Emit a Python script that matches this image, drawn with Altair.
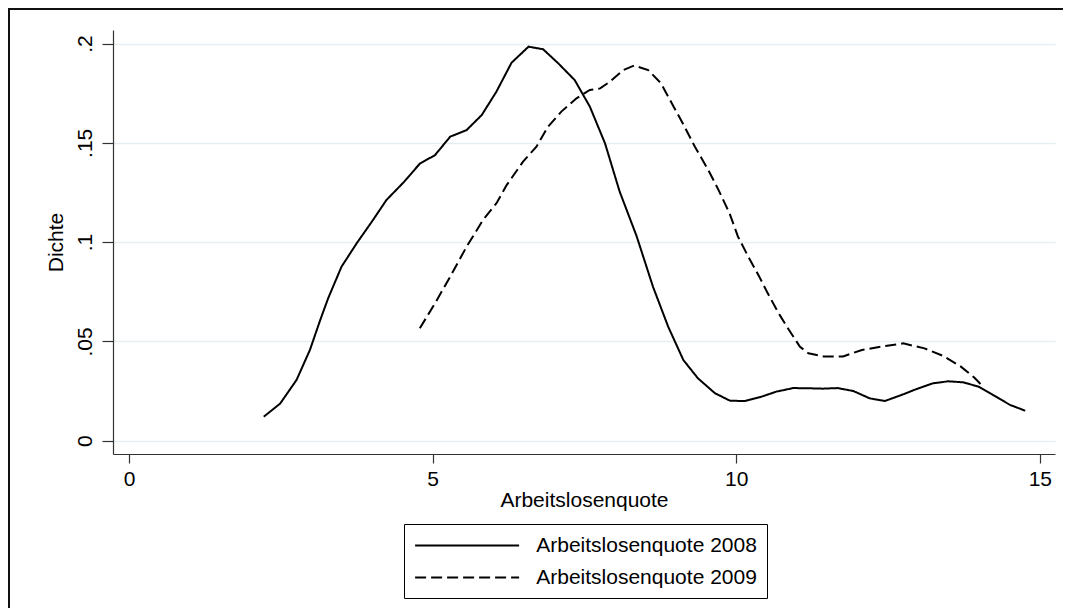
import altair as alt
import pandas as pd

# ---- data (kernel density estimates) ----
series_names = ["Arbeitslosenquote 2008", "Arbeitslosenquote 2009"]

x2008 = [2.22, 2.49, 2.76, 2.98, 3.15, 3.28, 3.50, 3.75, 4.00, 4.24, 4.52, 4.79,
         5.04, 5.29, 5.56, 5.81, 6.05, 6.30, 6.58, 6.82, 7.07, 7.34, 7.59, 7.84,
         8.08, 8.36, 8.63, 8.88, 9.13, 9.37, 9.65, 9.90, 10.14, 10.42, 10.66, 10.94,
         11.19, 11.43, 11.67, 11.93, 12.20, 12.45, 12.72, 12.97, 13.24, 13.49, 13.74,
         13.99, 14.23, 14.51, 14.76]
y2008 = [0.0121, 0.0187, 0.0306, 0.0457, 0.0608, 0.0717, 0.0876, 0.0994, 0.1103,
         0.1212, 0.1300, 0.1395, 0.1438, 0.1531, 0.1564, 0.1640, 0.1757, 0.1903,
         0.1984, 0.1971, 0.1900, 0.1816, 0.1682, 0.1497, 0.1255, 0.1030, 0.0775,
         0.0574, 0.0406, 0.0314, 0.0239, 0.0201, 0.0200, 0.0222, 0.0247, 0.0265,
         0.0264, 0.0262, 0.0265, 0.0250, 0.0213, 0.0200, 0.0230, 0.0260, 0.0289,
         0.0299, 0.0294, 0.0272, 0.0230, 0.0180, 0.0151]

x2009 = [4.79, 5.04, 5.29, 5.56, 5.83, 6.05, 6.22, 6.49, 6.71, 6.90, 7.12, 7.37,
         7.59, 7.76, 7.92, 8.14, 8.32, 8.55, 8.76, 8.97, 9.15, 9.32, 9.54, 9.71,
         9.89, 10.03, 10.20, 10.38, 10.52, 10.70, 10.87, 11.05, 11.19, 11.44, 11.76,
         12.07, 12.42, 12.75, 13.10, 13.40, 13.70, 13.92, 14.08]
y2009 = [0.0566, 0.0692, 0.0826, 0.0977, 0.1111, 0.1195, 0.1287, 0.1405, 0.1480,
         0.1581, 0.1657, 0.1724, 0.1766, 0.1774, 0.1808, 0.1866, 0.1889, 0.1866,
         0.1800, 0.1682, 0.1581, 0.1480, 0.1363, 0.1262, 0.1145, 0.1027, 0.0926,
         0.0826, 0.0742, 0.0641, 0.0557, 0.0473, 0.0440, 0.0424, 0.0424, 0.0457,
         0.0475, 0.0490, 0.0465, 0.0428, 0.0373, 0.0318, 0.0268]

x_ticks = [0, 5, 10, 15]
y_ticks = [0, 0.05, 0.1, 0.15, 0.2]
y_tick_labels = ["0", ".05", ".1", ".15", ".2"]

x_title = "Arbeitslosenquote"
y_title = "Dichte"

FONT = "Liberation Sans"
FS = 21

df = pd.concat([
    pd.DataFrame({"x": x2008, "y": y2008, "serie": series_names[0], "o": range(len(x2008))}),
    pd.DataFrame({"x": x2009, "y": y2009, "serie": series_names[1], "o": range(len(x2009))}),
])

y_label_expr = " : ".join(
    [f"datum.value == {v} ? '{l}'" for v, l in zip(y_ticks, y_tick_labels)] + ["''"]
)

W, H = 942, 424

# legend key: a long horizontal stroke drawn as a custom symbol path
KEY_D = 20.8  # symbol "diameter" (sqrt of size); path spans 5 * KEY_D
lines = alt.Chart(df).mark_line(color="black", strokeWidth=2).encode(
    x=alt.X("x:Q",
            scale=alt.Scale(domain=[-0.263, 15.25], nice=False, zero=False),
            axis=alt.Axis(values=x_ticks, title=x_title, grid=False,
                          tickSize=9, labelPadding=22, labelBaseline="alphabetic",
                          labelFlush=False, titleBaseline="alphabetic", titleY=52,
                          titlePadding=0)),
    y=alt.Y("y:Q",
            scale=alt.Scale(domain=[-0.0067, 0.2068], nice=False, zero=False),
            axis=alt.Axis(values=y_ticks, labelExpr=y_label_expr, title=y_title,
                          grid=True, tickSize=11, labelPadding=11,
                          labelAngle=270, labelAlign="center",
                          labelBaseline="alphabetic",
                          titleAngle=270, titleBaseline="alphabetic",
                          titleAlign="center", titleX=-51, titleY=H / 2)),
    strokeDash=alt.StrokeDash(
        "serie:N",
        scale=alt.Scale(domain=series_names, range=[[1, 0], [11, 5]]),
        legend=alt.Legend(title=None, orient="none", legendX=291, legendY=494,
                          direction="vertical", strokeColor="black",
                          fillColor="white", padding=10,
                          symbolType="M-1,0H9", symbolSize=KEY_D * KEY_D,
                          symbolStrokeWidth=2, symbolStrokeColor="black",
                          labelFontSize=FS, labelFont=FONT,
                          labelOffset=5 * KEY_D - KEY_D + 16,
                          labelLimit=500, labelColor="black", rowPadding=10),
    ),
    order="o:Q",
)

frame_df = pd.DataFrame({"k": [0]})
frame_left = alt.Chart(frame_df).mark_rule(color="#111111", strokeWidth=2).encode(
    x=alt.value(-104), y=alt.value(-22), y2=alt.value(600))
frame_top = alt.Chart(frame_df).mark_rule(color="#111111", strokeWidth=2).encode(
    x=alt.value(-105), x2=alt.value(960), y=alt.value(-21))

chart = alt.layer(lines, frame_left, frame_top).properties(
    width=W, height=H,
    autosize=alt.AutoSizeParams(type="none"),
    padding={"left": 105, "top": 22, "right": 8, "bottom": 154},
    background="white",
).configure_view(stroke=None).configure_axis(
    labelFont=FONT, titleFont=FONT, labelFontSize=FS, titleFontSize=FS,
    labelColor="black", titleColor="black", titleFontWeight="normal",
    domainColor="#333333", tickColor="#333333", domainWidth=1.2, tickWidth=1.2,
    gridColor="#e6eef2", gridWidth=1.6,
)

chart.save("out.html", embed_options={"renderer": "svg", "actions": False})
